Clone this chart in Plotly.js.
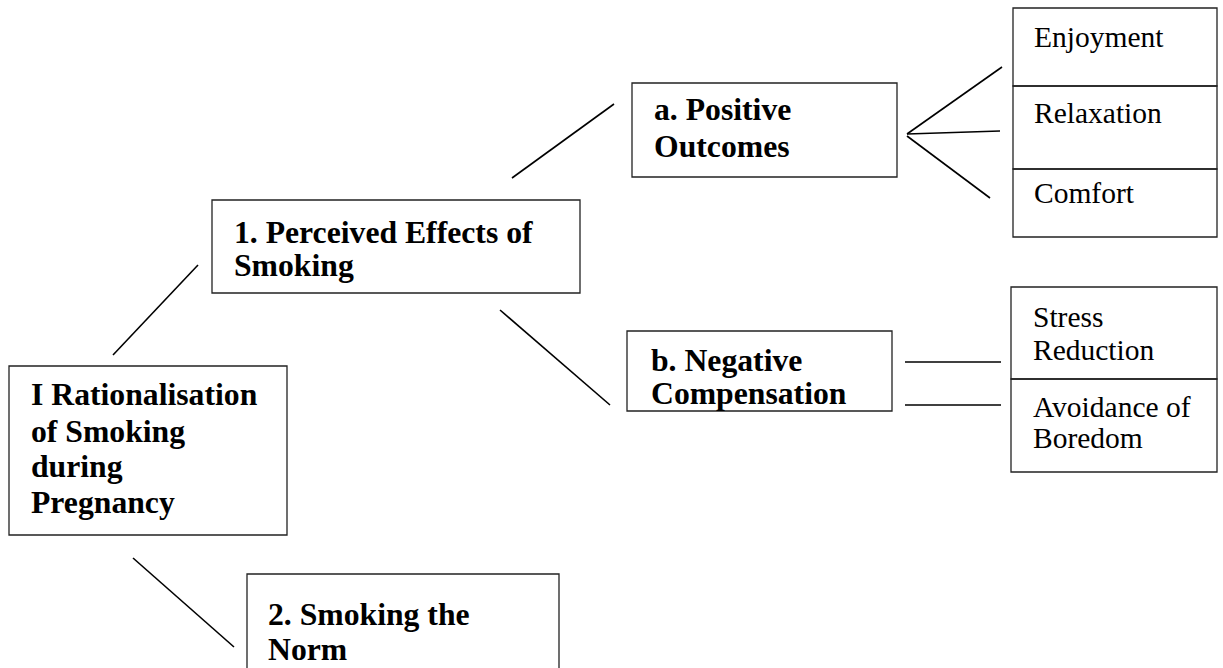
<!DOCTYPE html>
<html>
<head>
<meta charset="utf-8">
<script src="https://cdn.plot.ly/plotly-3.0.1.min.js"></script>
<style>html,body{margin:0;padding:0;background:#fff;}#chart{width:1223px;height:668px;}</style>
</head>
<body>
<div id="chart"></div>
<script>
// Node texts (each entry = lines of one text block)
var nodeLabels = [
  ["I Rationalisation", "of Smoking", "during", "Pregnancy"],
  ["1. Perceived Effects of", "Smoking"],
  ["2. Smoking the", "Norm"],
  ["a. Positive", "Outcomes"],
  ["b. Negative", "Compensation"],
  ["Enjoyment"],
  ["Relaxation"],
  ["Comfort"],
  ["Stress", "Reduction"],
  ["Avoidance of", "Boredom"]
];
var nodeBold = [true, true, true, true, true, false, false, false, false, false];
// Text block anchor: left x and baseline y of each line
var textLeft = [30, 233, 267, 653, 650, 1033, 1033, 1033, 1032, 1032];
var textBaselines = [
  [405, 442, 477, 513],
  [243, 276],
  [625, 660],
  [120, 157],
  [371, 404],
  [47],
  [123],
  [203],
  [327, 360],
  [417, 448]
];
// Rectangles: [x0, y0, x1, y1]
var boxes = [
  [9, 366, 287, 535],
  [212, 200, 580, 293],
  [247, 574, 559, 700],
  [632, 83, 897, 177],
  [627, 331, 892, 411],
  [1013, 8, 1217, 86],
  [1013, 86, 1217, 169],
  [1013, 169, 1217, 237],
  [1011, 287, 1217, 379],
  [1011, 379, 1217, 472]
];
// Connector lines: [x0, y0, x1, y1]
var connectors = [
  [113, 355, 198, 265],
  [133, 558, 234, 647],
  [512, 178, 614, 104],
  [500, 310, 610, 405],
  [907, 134, 1002, 67],
  [907, 134, 1000, 131],
  [907, 136, 990, 198],
  [905, 362, 1001, 362],
  [905, 405, 1001, 405]
];

var shapes = [];
boxes.forEach(function (b) {
  shapes.push({type: 'rect', xref: 'x', yref: 'y', x0: b[0], y0: b[1], x1: b[2], y1: b[3],
    line: {color: '#222', width: 1.3}, fillcolor: 'rgba(0,0,0,0)'});
});
connectors.forEach(function (c) {
  shapes.push({type: 'line', xref: 'x', yref: 'y', x0: c[0], y0: c[1], x1: c[2], y1: c[3],
    line: {color: '#000', width: 1.6}});
});

var annotations = [];
nodeLabels.forEach(function (lines, i) {
  lines.forEach(function (t, j) {
    var fs = nodeBold[i] ? 31.7 : 29.5;
    annotations.push({
      xref: 'x', yref: 'y', x: textLeft[i], y: textBaselines[i][j] - fs * 0.33,
      xanchor: 'left', yanchor: 'middle', showarrow: false,
      text: nodeBold[i] ? '<b>' + t + '</b>' : t,
      font: {family: 'Liberation Serif, Times New Roman, serif', size: fs, color: '#000'},
      borderpad: 0
    });
  });
});

var layout = {
  width: 1223, height: 668,
  margin: {l: 0, r: 0, t: 0, b: 0},
  paper_bgcolor: '#fff', plot_bgcolor: '#fff',
  xaxis: {range: [0, 1223], visible: false, fixedrange: true},
  yaxis: {range: [668, 0], visible: false, fixedrange: true},
  showlegend: false,
  shapes: shapes,
  annotations: annotations
};

Plotly.newPlot('chart', [{x: [], y: [], type: 'scatter', mode: 'lines', hoverinfo: 'skip'}], layout,
  {displayModeBar: false, staticPlot: true});
</script>
</body>
</html>
